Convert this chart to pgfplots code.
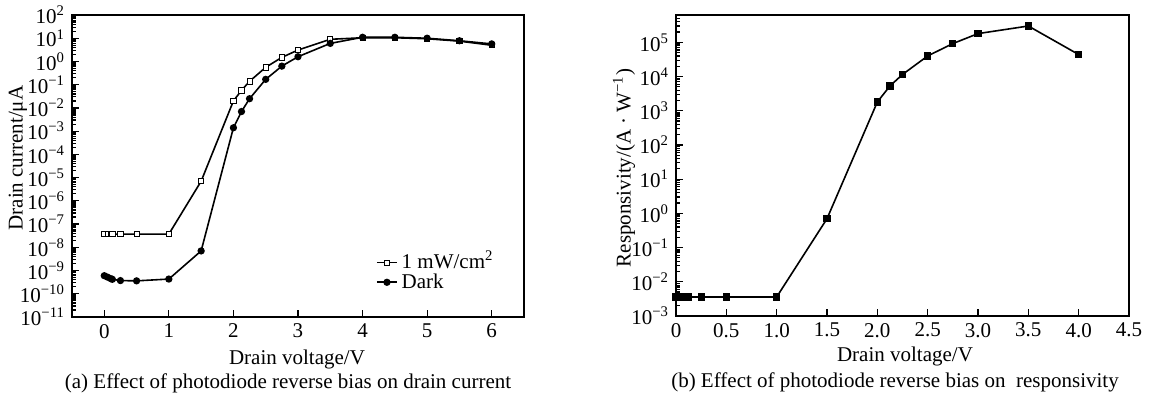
\documentclass[border=0pt]{standalone}
\usepackage{fontspec}
\setmainfont{Liberation Serif}
\usepackage{pgfplots}
\pgfplotsset{compat=1.18}
\newcommand\tenlabel{\pgfmathtruncatemacro\ee{round(\tick)}10\textsuperscript{\ifnum\ee<0 −\the\numexpr-\ee\relax\else\ee\fi}}
\def\minorlistA{1e-11}
\foreach \e in {-11,...,1}{\foreach \m in {2,...,9}{\xdef\minorlistA{\minorlistA,\m e\e}}}
\def\minorlistB{1e-3}
\foreach \e in {-3,...,5}{\foreach \m in {2,...,9}{\xdef\minorlistB{\minorlistB,\m e\e}}}
\pgfplotsset{
  mystyle/.style={
    scale only axis,
    anchor=south west,
    axis line style={line width=1pt},
    every tick/.style={line width=0.6pt, black},
    major tick length=3.5pt,
    minor tick length=2pt,
    tick align=inside,
    xtick pos=bottom, ytick pos=left,
    /pgf/number format/assume math mode=true,
    tick label style={font=\fontsize{10.5}{12}\selectfont},
    log basis y=10,
    yticklabel={\tenlabel},
    clip=false,
  }
}
\begin{document}
\begin{tikzpicture}
\path[use as bounding box] (0,0) rectangle (578.5pt,-201pt);
% ---------------- (a)
\begin{axis}[mystyle, at={(36pt,-158.5pt)}, width=226pt, height=151pt,
  ymode=log, xmin=-0.5, xmax=6.5, ymin=1e-11, ymax=1e2,
  xtick={0,1,2,3,4,5,6}, ytickten={-11,...,2},
  minor ytick/.expanded=\minorlistA,
  legend style={draw=none, fill=none, at={(0.672,0.205)}, anchor=north west,
    font=\fontsize{10.5}{12}\selectfont, row sep=2.6pt, inner sep=0pt,
    nodes={inner xsep=2pt, inner ysep=0.2pt, text height=6.5pt, text depth=0.3pt}},
  legend cell align=left,
  legend image code/.code={\draw[mark repeat=2,mark phase=2,#1] plot coordinates {(0pt,0pt) (5pt,0pt) (10pt,0pt)};},
  ]
\addplot[black, line width=0.8pt, mark=square*, mark size=1.3pt, mark options={fill=white, line width=0.4pt}] coordinates {
(0,3.7e-8) (0.05,3.7e-8) (0.1,3.7e-8) (0.125,3.7e-8) (0.25,3.7e-8) (0.5,3.7e-8) (1,3.7e-8)
(1.5,7e-6) (2,0.02) (2.125,0.057) (2.25,0.14) (2.5,0.56) (2.75,1.5) (3,3.1) (3.5,9)
(4,10.5) (4.5,10.5) (5,9.5) (5.5,7.5) (6,5)};
\addlegendentry{1 mW/cm\textsuperscript{2}}
\addplot[black, line width=0.8pt, mark=*, mark size=1.4pt] coordinates {
(0,6e-10) (0.05,5.2e-10) (0.1,4.5e-10) (0.125,4.2e-10) (0.25,3.7e-10) (0.5,3.6e-10) (1,4.3e-10)
(1.5,7e-9) (2,1.4e-3) (2.125,7e-3) (2.25,0.025) (2.5,0.17) (2.75,0.63) (3,1.6) (3.5,6)
(4,11) (4.5,11) (5,10) (5.5,7.8) (6,5.7)};
\addlegendentry{Dark}
\end{axis}
% ---------------- (b)
\begin{axis}[mystyle, at={(338pt,-158pt)}, width=226.5pt, height=150.5pt,
  ymode=log, xmin=0, xmax=4.5, ymin=1e-3, ymax=6.3e5,
  xtick={0,0.5,1,1.5,2,2.5,3,3.5,4,4.5},
  xticklabels={0,0.5,1.0,1.5,2.0,2.5,3.0,3.5,4.0,4.5},
  ytickten={-3,...,5},
  minor ytick/.expanded=\minorlistB,
  ]
\addplot[black, line width=0.8pt, mark=square*, mark size=1.4pt] coordinates {
(0,3.6e-3) (0.05,3.6e-3) (0.1,3.6e-3) (0.125,3.6e-3) (0.25,3.6e-3) (0.5,3.6e-3) (1,3.6e-3)
(1.5,0.7) (2,1.8e3) (2.125,5.3e3) (2.25,1.15e4) (2.5,4e4) (2.75,9.2e4) (3,1.8e5) (3.5,3e5) (4,4.4e4)};
\end{axis}
% labels
\node[rotate=90, font=\fontsize{10.5}{12}\selectfont] at (9pt,-79pt) {Drain current/μA};
\node[rotate=90, font=\fontsize{10.5}{12}\selectfont] at (312pt,-84pt) {Responsivity/(A · W\textsuperscript{−1})};
\node[anchor=base, font=\fontsize{10.5}{12}\selectfont] at (148.5pt,-182pt) {Drain voltage/V};
\node[anchor=base, font=\fontsize{10.5}{12}\selectfont] at (452.5pt,-180.5pt) {Drain voltage/V};
\node[anchor=base, font=\fontsize{10.5}{12}\selectfont] at (144pt,-194pt) {(a) Effect of photodiode reverse bias on drain current};
\node[anchor=base, font=\fontsize{10.5}{12}\selectfont] at (447.5pt,-193.5pt) {(b) Effect of photodiode reverse bias on\ \ responsivity};
\end{tikzpicture}
\end{document}
